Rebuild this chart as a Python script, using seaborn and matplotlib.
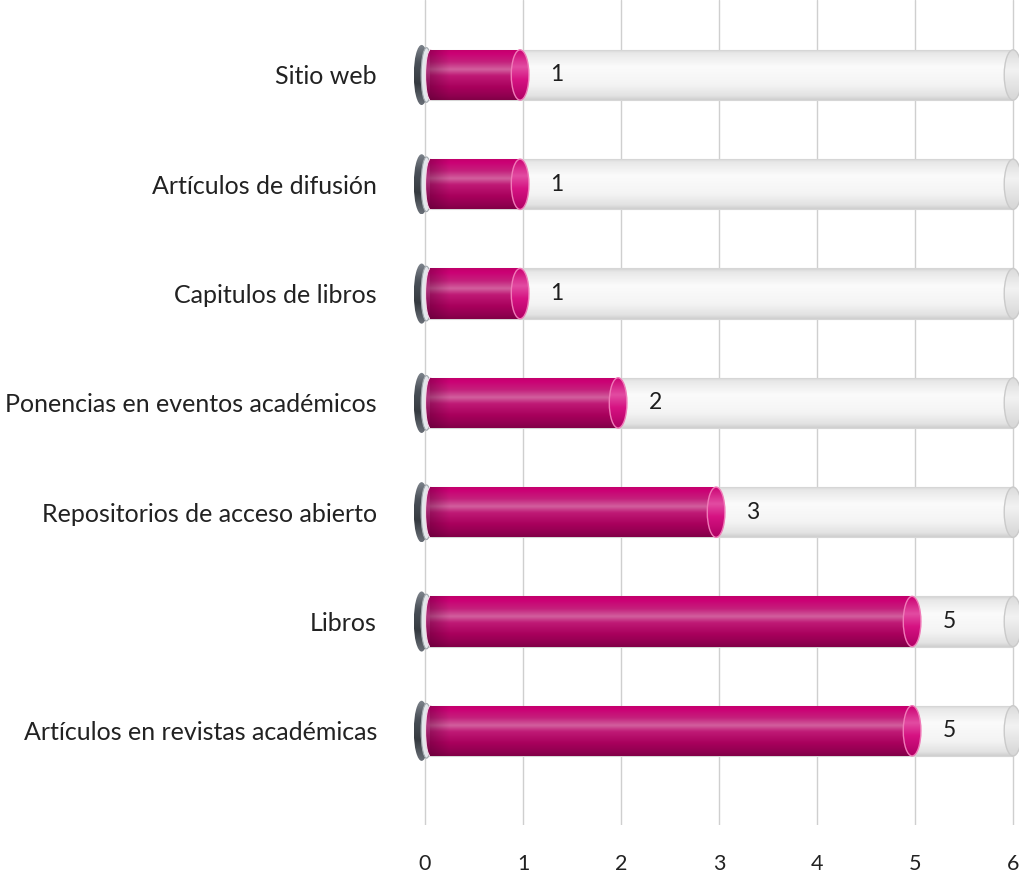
import numpy as np
import pandas as pd
import matplotlib
matplotlib.use("Agg")
import matplotlib.pyplot as plt
import seaborn as sns
from matplotlib.patches import Ellipse, Rectangle
from matplotlib.colors import LinearSegmentedColormap

# Data
categories = [
    "Sitio web",
    "Artículos de difusión",
    "Capitulos de libros",
    "Ponencias en eventos académicos",
    "Repositorios de acceso abierto",
    "Libros",
    "Artículos en revistas académicas",
]
values = [1, 1, 1, 2, 3, 5, 5]
x_ticks = [0, 1, 2, 3, 4, 5, 6]
scale_max = 6

sns.set_theme(style="white")
plt.rcParams["font.family"] = ["Lato", "DejaVu Sans"]

df = pd.DataFrame({"categoria": categories, "valor": values,
                   "fondo": [scale_max] * len(categories)})

fig = plt.figure(figsize=(10.2, 8.75), dpi=100)
ax = fig.add_axes([0.4023, 0.0571, 0.5976, 0.9429])

BAR_H = 0.46
CAP_W = 0.18

# Background tubes (full scale) and value tubes
sns.barplot(data=df, x="fondo", y="categoria", orient="h", width=BAR_H,
            color="#eeeeee", ax=ax, zorder=1)
n_bg = len(ax.patches)
sns.barplot(data=df, x="valor", y="categoria", orient="h", width=BAR_H,
            color="#b8005f", ax=ax, zorder=2)
bg_patches = ax.patches[:n_bg]
fg_patches = ax.patches[n_bg:]

grey_cmap = LinearSegmentedColormap.from_list("tube_grey", [
    (0.00, "#d2d2d2"), (0.08, "#e8e8e8"), (0.35, "#fbfbfb"),
    (0.70, "#f4f4f4"), (0.92, "#e2e2e2"), (1.00, "#cecece")])
mag_cmap = LinearSegmentedColormap.from_list("tube_mag", [
    (0.00, "#c0006a"), (0.08, "#cc0074"), (0.25, "#c4207c"),
    (0.40, "#d2609e"), (0.52, "#bf1a76"), (0.75, "#a8005c"),
    (0.92, "#900050"), (1.00, "#800046")])
cap_cmap = LinearSegmentedColormap.from_list("cap_mag", [
    (0.00, "#cc0072"), (0.35, "#e24ca2"), (0.60, "#d61282"), (1.00, "#b00064")])
leftcap_cmap = LinearSegmentedColormap.from_list("left_mag", [
    (0.00, "#a0005c"), (0.40, "#b03a80"), (0.60, "#9a1a66"), (1.00, "#70003c")])
ring_cmap = LinearSegmentedColormap.from_list("ring", [
    (0.00, "#80878f"), (0.30, "#4a5058"), (0.65, "#353a40"), (1.00, "#6a7078")])
greycap_cmap = LinearSegmentedColormap.from_list("cap_grey", [
    (0.00, "#dadada"), (0.4, "#f2f2f2"), (1.00, "#d6d6d6")])

grad = np.linspace(0, 1, 256).reshape(-1, 1)


def shade(patch, x0, x1, y0, y1, cmap, z):
    """Fill a patch with a vertical gradient (top of tube -> bottom)."""
    ax.add_patch(patch)
    im = ax.imshow(grad, cmap=cmap, aspect="auto", origin="upper",
                   extent=(x0, x1, y1, y0), zorder=z, interpolation="bicubic")
    im.set_clip_path(patch)
    return im


# Background tubes
for p in bg_patches:
    x0, y0, w, h = p.get_x(), p.get_y(), p.get_width(), p.get_height()
    p.set_facecolor("none")
    p.set_linewidth(0)
    body = Rectangle((x0, y0), w, h, fc="none", ec="none", zorder=1)
    shade(body, x0, x0 + w, y0, y0 + h, grey_cmap, 1.1)
    ax.plot([x0, x0 + w], [y0, y0], color="#d6d6d6", lw=0.8, zorder=1.2)
    ax.plot([x0, x0 + w], [y0 + h, y0 + h], color="#d6d6d6", lw=0.8, zorder=1.2)
    cap = Ellipse((x0 + w, y0 + h / 2), CAP_W, h, fc="none",
                  ec="#cacaca", lw=1.0, zorder=1.3)
    shade(cap, x0 + w - CAP_W / 2, x0 + w + CAP_W / 2, y0, y0 + h,
          greycap_cmap, 1.25)

# Base rings at the origin
for p in bg_patches:
    yc = p.get_y() + p.get_height() / 2
    outer = Ellipse((-0.035, yc), 0.16, 0.55, fc="none", ec="none", zorder=1.5)
    shade(outer, -0.115, 0.045, yc - 0.275, yc + 0.275, ring_cmap, 1.5)
    inner = Ellipse((0.015, yc), 0.11, 0.50, fc="#e3e7eb", ec="#a3a9af",
                    lw=0.8, zorder=1.6)
    ax.add_patch(inner)

# Value tubes
left_fade = np.zeros((1, 64, 4))
left_fade[..., :3] = (0.3, 0.0, 0.18)
left_fade[..., 3] = np.linspace(0.35, 0.0, 64)
for p in fg_patches:
    x0, y0, w, h = p.get_x(), p.get_y(), p.get_width(), p.get_height()
    p.set_facecolor("none")
    p.set_linewidth(0)
    x_start = x0 + 0.055
    x_end = x0 + w - 0.03
    yc = y0 + h / 2
    lcap = Ellipse((x_start, yc), 0.1, h, fc="none", ec="#f4d6e6",
                   lw=0.8, zorder=2.05)
    shade(lcap, x_start - 0.05, x_start + 0.05, y0, y0 + h, leftcap_cmap, 2.0)
    body = Rectangle((x_start, y0), x_end - x_start, h, fc="none", ec="none",
                     zorder=2)
    shade(body, x_start, x_end, y0, y0 + h, mag_cmap, 2.1)
    im = ax.imshow(left_fade, aspect="auto",
                   extent=(x_start, x_start + 0.2, y0 + h, y0),
                   zorder=2.2, interpolation="bicubic")
    im.set_clip_path(body)
    cap = Ellipse((x_end, yc), CAP_W, h, fc="none",
                  ec="#f07ab8", lw=1.0, zorder=2.4)
    shade(cap, x_end - CAP_W / 2, x_end + CAP_W / 2, y0, y0 + h, cap_cmap, 2.3)

# Value labels
for i, v in enumerate(values):
    ax.text(v + 0.28, i, f"{v}", ha="left", va="center", fontsize=16.5,
            color="#1e1e1e", zorder=3)

ax.set_xlim(-0.15, 6.07)
ax.set_ylim(6.862, -0.686)
ax.set_xticks(x_ticks)
ax.set_xticklabels([str(t) for t in x_ticks])
ax.grid(axis="x", color="#cfcfcf", lw=1.0)
ax.grid(axis="y", visible=False)
ax.set_axisbelow(True)
for s in ax.spines.values():
    s.set_visible(False)
ax.tick_params(axis="x", length=0, pad=21, labelsize=15.5, labelcolor="#222222")
ax.tick_params(axis="y", length=0, pad=24, labelsize=18, labelcolor="#222222")
ax.set_xlabel("")
ax.set_ylabel("")

fig.savefig("out.png", dpi=100, facecolor="white")
